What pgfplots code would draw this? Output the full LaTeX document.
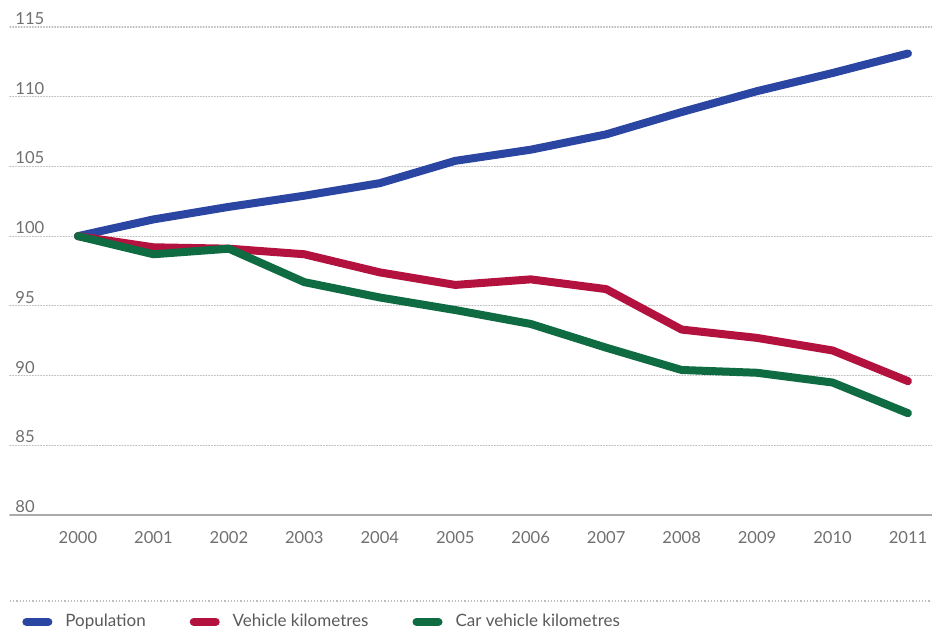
\documentclass[border=0pt]{standalone}
\usepackage{pgfplots}
\pgfplotsset{compat=1.18}
\usepackage{fontspec}
\setmainfont{Lato}

\definecolor{popblue}{HTML}{2B45A2}
\definecolor{vkred}{HTML}{B3123F}
\definecolor{cargreen}{HTML}{0F6B42}
\definecolor{labelgray}{HTML}{707070}
\definecolor{gridgray}{HTML}{BDBDBD}

\begin{document}
\begin{tikzpicture}
% picture frame: 1 px of the reference = 0.5pt
\path[use as bounding box] (0,0) rectangle (466pt,315pt);
\begin{axis}[
    at={(5pt,57.5pt)}, anchor=south west,
    scale only axis,
    width=461pt, height=244pt,
    xmin=1999.099, xmax=2011.318,
    ymin=80, ymax=115,
    xtick={2000,2001,...,2011},
    ytick={80,85,...,115},
    major tick length=0pt,
    axis x line*=bottom,
    axis y line*=left,
    y axis line style={draw=none},
    x axis line style={draw=gridgray!90!black, line width=0.6pt, -},
    ymajorgrids,
    grid style={densely dotted, gridgray, line width=0.6pt},
    /pgf/number format/assume math mode=true,
    /pgf/number format/1000 sep={},
    tick label style={font=\fontsize{8.3}{9}\selectfont, text=labelgray},
    yticklabel style={anchor=south west, xshift=1.5pt, yshift=0pt, inner sep=1pt},
    xticklabel style={yshift=-4.5pt},
    line join=round, line cap=round,
    legend columns=3,
    legend cell align=left,
    legend style={at={(0.013,-0.219)}, anchor=west, draw=none, fill=none,
        inner sep=0pt, font=\fontsize{8.5}{9}\selectfont, text=labelgray!80!black,
        /tikz/every even column/.append style={column sep=20pt},
        /tikz/every odd column/.append style={column sep=4.5pt}},
    legend image code/.code={\draw[#1, line width=4pt, line cap=round] (2pt,0pt) -- (13pt,0pt);},
]
\addplot[popblue, line width=4pt] coordinates {
    (2000,100.0) (2001,101.2) (2002,102.1) (2003,102.9) (2004,103.8) (2005,105.4)
    (2006,106.2) (2007,107.3) (2008,108.9) (2009,110.4) (2010,111.7) (2011,113.1)
};
\addlegendentry{Population}
\addplot[vkred, line width=4pt] coordinates {
    (2000,100.0) (2001,99.2) (2002,99.1) (2003,98.7) (2004,97.4) (2005,96.5)
    (2006,96.9) (2007,96.2) (2008,93.3) (2009,92.7) (2010,91.8) (2011,89.6)
};
\addlegendentry{Vehicle kilometres}
\addplot[cargreen, line width=4pt] coordinates {
    (2000,100.0) (2001,98.7) (2002,99.1) (2003,96.7) (2004,95.6) (2005,94.7)
    (2006,93.7) (2007,92.0) (2008,90.4) (2009,90.2) (2010,89.5) (2011,87.3)
};
\addlegendentry{Car vehicle kilometres}
\end{axis}
\draw[densely dotted, gridgray, line width=0.6pt] (5pt,14.5pt) -- (466pt,14.5pt);
\end{tikzpicture}
\end{document}
